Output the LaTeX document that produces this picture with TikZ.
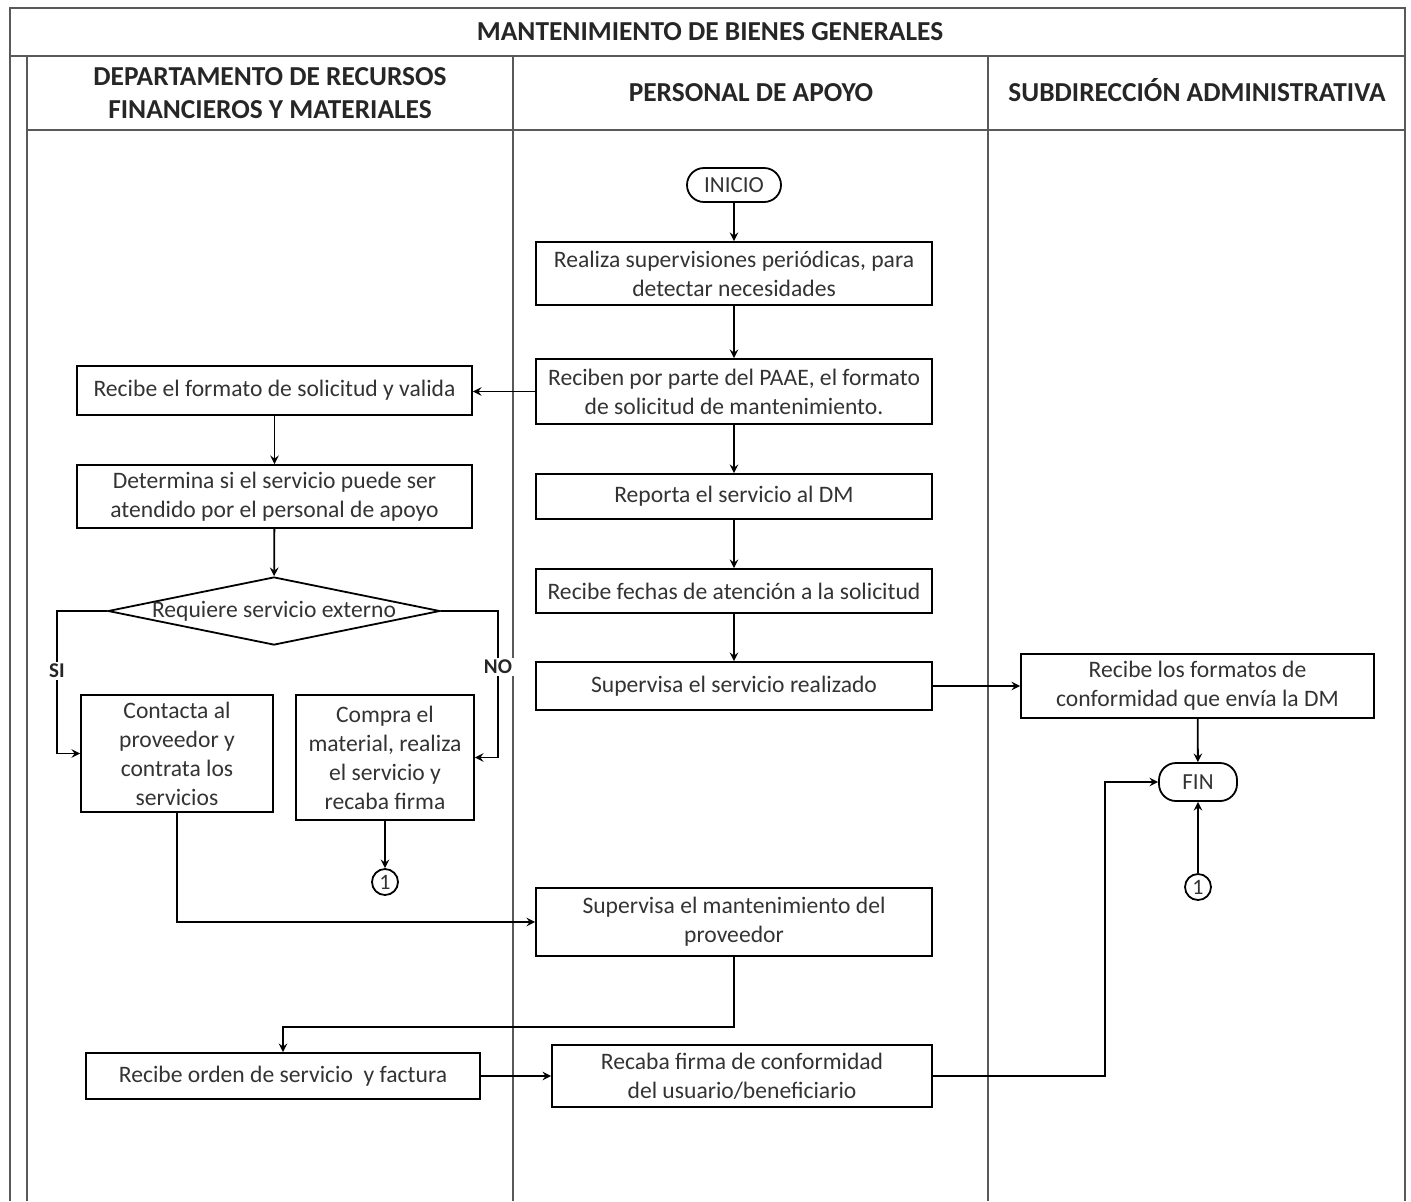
\documentclass[tikz,border=0pt]{standalone}
\usepackage{fontspec}
\setmainfont{Carlito}
\usepackage{tikz}
\usetikzlibrary{shapes.geometric, arrows, positioning, calc}

\tikzstyle{lane} = [line width=1.2pt, draw=black!65]
\tikzstyle{head} = [font=\fontsize{13.7}{16.5}\selectfont\bfseries, text=black!85, align=center]
\tikzstyle{process} = [rectangle, draw=black, line width=0.9pt, align=center, text=black!80, inner sep=2pt, font=\fontsize{11.8}{14.5}\selectfont]
\tikzstyle{startstop} = [rectangle, rounded corners=8.5pt, draw=black, line width=0.9pt, text=black!80, inner sep=1pt, font=\fontsize{11.5}{12}\selectfont]
\tikzstyle{decision} = [diamond, aspect=4.9, draw=black, line width=0.9pt, inner ysep=0pt, inner xsep=-15pt, text=black!80, font=\fontsize{11.8}{12}\selectfont]
\tikzstyle{connector} = [circle, draw=black, line width=0.9pt, inner sep=0pt, minimum size=13pt, text=black!80, font=\fontsize{11}{12}\selectfont]
\tikzstyle{tag} = [fill=white, inner sep=1pt, text=black!85, font=\fontsize{10.5}{12}\selectfont\bfseries]
\tikzstyle{arrow} = [line width=0.9pt,->,>=stealth]

\begin{document}
\begin{tikzpicture}[x=0.5pt, y=-0.5pt]
\useasboundingbox (0,0) rectangle (1411,1201);

% pool and lanes
\draw [lane] (10,1201) -- (10,8) -- (1405,8) -- (1405,1201);
\draw [lane] (10,56) -- (1405,56);
\draw [lane] (27,56) -- (27,1201);
\draw [lane] (27,130) -- (1405,130);
\draw [lane] (513,56) -- (513,1201);
\draw [lane] (988,56) -- (988,1201);

\node (title) [head] at (710,32) {MANTENIMIENTO DE BIENES GENERALES};
\node (drfm) [head] at (270,93) {DEPARTAMENTO DE RECURSOS\\FINANCIEROS Y MATERIALES};
\node (apoyo) [head] at (751,93) {PERSONAL DE APOYO};
\node (subdir) [head] at (1197,90) {SUBDIRECCIÓN ADMINISTRATIVA};

% personal de apoyo
\node (inicio) [startstop, minimum width=47pt, minimum height=17pt] at (734,185) {INICIO};
\node (realiza) [process, minimum width=198pt, minimum height=31.5pt] at (734,273.5) {Realiza supervisiones periódicas, para\\detectar necesidades};
\node (reciben) [process, minimum width=198pt, minimum height=32.5pt] at (734,391.5) {Reciben por parte del PAAE, el formato\\de solicitud de mantenimiento.};
\node (reporta) [process, minimum width=198pt, minimum height=22.5pt] at (734,496.5) {Reporta el servicio al DM};
\node (fechas) [process, minimum width=198pt, minimum height=22pt] at (734,591) {Recibe fechas de atención a la solicitud};
\node (realizado) [process, minimum width=198pt, minimum height=24pt] at (734,686) {Supervisa el servicio realizado};
\node (mantenim) [process, minimum width=198pt, minimum height=34pt] at (734,922) {Supervisa el mantenimiento del\\proveedor};
\node (recaba) [process, minimum width=190pt, minimum height=31pt] at (742,1076) {Recaba firma de conformidad\\del usuario/beneficiario};

% recursos financieros y materiales
\node (formato) [process, minimum width=197.5pt, minimum height=24.5pt] at (274.5,390.5) {Recibe el formato de solicitud y valida};
\node (determina) [process, minimum width=197.5pt, minimum height=31.5pt] at (274.5,496.5) {Determina si el servicio puede ser\\atendido por el personal de apoyo};
\node (externo) [decision, minimum width=166pt, minimum height=34pt] at (274,611) {Requiere servicio externo};
\node (contacta) [process, minimum width=96pt, minimum height=58.5pt] at (177,753.5) {Contacta al\\proveedor y\\contrata los\\servicios};
\node (compra) [process, minimum width=89pt, minimum height=62.5pt] at (385,757.5) {Compra el\\material, realiza\\el servicio y\\recaba firma};
\node (uno) [connector] at (385,882) {1};
\node (orden) [process, minimum width=197pt, minimum height=23pt] at (283,1076) {Recibe orden de servicio\ \ y factura};

% subdireccion administrativa
\node (formatos) [process, minimum width=176.5pt, minimum height=32pt] at (1197.5,686) {Recibe los formatos de\\conformidad que envía la DM};
\node (fin) [startstop, minimum width=39pt, minimum height=19pt] at (1198,782) {FIN};
\node (dos) [connector] at (1198,887) {1};

\coordinate (siturn) at (57,611);
\coordinate (noturn) at (498,611);
\coordinate (bend) at (734,1027);
\coordinate (finturn) at (1105,1076);

\draw [arrow] (inicio) -- (realiza);
\draw [arrow] (realiza) -- (reciben);
\draw [arrow] (reciben.west) -- (reciben.west -| formato.east);
\draw [arrow] (reciben) -- (reporta);
\draw [arrow] (reporta) -- (fechas);
\draw [arrow] (fechas) -- (realizado);
\draw [arrow] (realizado) -- (formatos);
\draw [arrow] (formato) -- (determina);
\draw [arrow] (determina) -- (externo);
\draw [arrow] (externo.west) -- (siturn) |- node [tag, pos=0.21] {SI} (contacta.west);
\draw [arrow] (externo.east) -- (noturn) |- node [tag, pos=0.19] {NO} (compra.east);
\draw [arrow] (compra) -- (uno);
\draw [arrow] (contacta.south) |- (mantenim.west);
\draw [arrow] (mantenim) -- (bend) -| (orden);
\draw [arrow] (orden) -- (recaba);
\draw [arrow] (recaba) -- (finturn) |- (fin);
\draw [arrow] (formatos) -- (fin);
\draw [arrow] (dos) -- (fin);

\end{tikzpicture}
\end{document}
